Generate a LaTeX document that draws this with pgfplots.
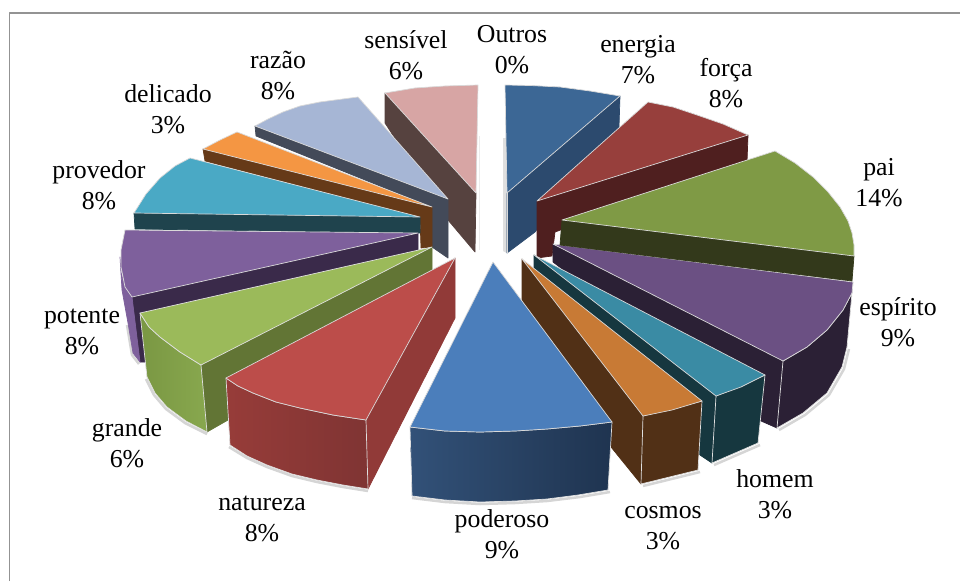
\documentclass[border=0pt]{standalone}
\usepackage{pgfplots}
\pgfplotsset{compat=1.18}
\usepackage{fontspec}
\setmainfont{Liberation Serif}
\definecolor{enT}{HTML}{3C6795}\definecolor{enS}{HTML}{2C4A6E}
\definecolor{foT}{HTML}{973F3C}\definecolor{foS}{HTML}{4F1F1F}
\definecolor{paT}{HTML}{7F9A45}\definecolor{paS}{HTML}{33391B}
\definecolor{esT}{HTML}{6B5083}\definecolor{esS}{HTML}{2B2035}
\definecolor{hoT}{HTML}{3A8BA4}\definecolor{hoS}{HTML}{16373F}
\definecolor{coT}{HTML}{C87A35}\definecolor{coS}{HTML}{513016}
\definecolor{poT}{HTML}{4B7EBB}\definecolor{poA}{HTML}{325178}\definecolor{poB}{HTML}{1F3450}
\definecolor{naT}{HTML}{BC4D4A}\definecolor{naS}{HTML}{913A38}\definecolor{naA}{HTML}{973C39}\definecolor{naB}{HTML}{7F3433}
\definecolor{grT}{HTML}{9BBA5A}\definecolor{grS}{HTML}{627535}\definecolor{grA}{HTML}{7A9743}\definecolor{grB}{HTML}{88A84E}
\definecolor{ptT}{HTML}{7E609C}\definecolor{ptS}{HTML}{3A2A4A}
\definecolor{prT}{HTML}{4AA9C5}\definecolor{prS}{HTML}{1F434D}
\definecolor{deT}{HTML}{F49643}\definecolor{deS}{HTML}{663A18}
\definecolor{raT}{HTML}{A6B6D5}\definecolor{raS}{HTML}{434A59}
\definecolor{seT}{HTML}{D7A5A4}\definecolor{seS}{HTML}{56423F}
\newcommand{\lbl}[4]{%
  \node[anchor=base,inner sep=0pt] at (axis cs:#1,#2) {\fontsize{25.8}{30}\selectfont #3};
  \node[anchor=base,inner sep=0pt] at (axis cs:#1,#2+31) {\fontsize{25.8}{30}\selectfont #4\%};}
\begin{document}
\begin{tikzpicture}
\begin{axis}[
  scale only axis, width=960pt, height=581pt,
  xmin=0, xmax=960, ymin=0, ymax=581, y dir=reverse,
  axis lines=none, clip=true,
  every axis plot/.append style={line join=round, line width=0.7pt},
]
\pgfplotsset{cycle list={}}
% page
\addplot[fill=white, draw=white, line width=0pt] coordinates {(0,0) (960,0) (960,581) (0,581)} -- cycle;
% frame
\addplot[draw=gray!85, line width=1.6pt] coordinates {(9.5,581) (9.5,13) (960,13)};
% Outros, 0%: the sliver and soft shadows
\addplot[fill=gray!25, draw=none] coordinates {(503,138) (506,138) (507,253) (503,251)} -- cycle;
\addplot[draw=gray!15, line width=1pt] coordinates {(479,136) (479,250)};
\addplot[draw=gray!55, line width=2.5pt, opacity=.6] coordinates {(849,349) (844,369) (829,395) (805,415) (779,430)};
\addplot[draw=gray!55, line width=2.5pt, opacity=.6] coordinates {(760,445) (714,465)};
\addplot[draw=gray!55, line width=2.5pt, opacity=.6] coordinates {(700,472) (643,486)};
\addplot[draw=gray!55, line width=2.5pt, opacity=.6] coordinates {(610,492) (580,497) (547,501) (515,503) (480,504) (445,502) (412,498)};
\addplot[draw=gray!55, line width=2.5pt, opacity=.6] coordinates {(229,447) (247,458) (267,467) (292,476) (317,482) (343,487) (368,491)};
\addplot[draw=gray!55, line width=2.5pt, opacity=.6] coordinates {(146,379) (154,395) (166,409) (185,423) (207,434)};
\addplot[draw=gray!55, line width=2.5pt, opacity=.6] coordinates {(127,325) (132,355) (139,364)};
% energia
\addplot[fill=enS, draw=enS] coordinates {(507,193) (620,96) (619,127) (535,232) (507,253)} -- cycle;
\addplot[fill=enT, draw=gray!30] coordinates {(507,193) (505,85) (530,85.5) (560,87) (590,91) (620,96)} -- cycle;
\addplot[draw=gray!30, line width=0.7pt] coordinates {(507,193) (507,253)};
% forca
\addplot[fill=foS, draw=foS] coordinates {(537,201) (748,135) (747,162) (555,232) (552,256) (537,258)} -- cycle;
\addplot[fill=foT, draw=gray!30] coordinates {(537,201) (648,102) (673,107) (697,115) (723,124) (748,135)} -- cycle;
% sensivel
\addplot[fill=seS, draw=seS] coordinates {(385,93) (385,123) (448,220) (475,252) (476,193)} -- cycle;
\addplot[fill=seT, draw=gray!30] coordinates {(476,193) (385,93) (415,88) (445,86) (478,85)} -- cycle;
% razao
\addplot[fill=raS, draw=raS] coordinates {(255,126) (256,136) (432,207) (432,247) (448,258) (448,199)} -- cycle;
\addplot[fill=raT, draw=gray!30] coordinates {(448,199) (255,126) (268,119) (283,112) (300,106) (320,102) (358,97)} -- cycle;
% delicado
\addplot[fill=deS, draw=deS] coordinates {(203,149) (205,161) (420,217) (421,248) (432,247) (432,207)} -- cycle;
\addplot[fill=deT, draw=gray!30] coordinates {(432,207) (203,149) (220,140) (237,132)} -- cycle;
% provedor
\addplot[fill=prS, draw=prS] coordinates {(134,213) (135,229) (420,233) (420,217)} -- cycle;
\addplot[fill=prT, draw=gray!30] coordinates {(420,217) (134,213) (146,194) (160,178) (175,166) (190,158)} -- cycle;
% potente
\addplot[fill=ptS, draw=ptS] coordinates {(132,297) (140,362) (145,362) (418,262) (418,233)} -- cycle;
\addplot[fill=ptT, draw=ptT] coordinates {(120,257) (121,272) (125,287) (132,297) (140,362) (133,353) (128,323) (122,290)} -- cycle;
\addplot[fill=ptT, draw=gray!30] coordinates {(418,233) (125,230) (121,250) (121,267) (125,287) (132,297)} -- cycle;
% grande
\addplot[fill=grS, draw=grS] coordinates {(432,247) (201,365) (207,432) (228,420) (432,290) (432,265)} -- cycle;
\addplot[left color=grA, right color=grB, draw=gray!25] coordinates {(140,313) (149,327) (160,337) (180,352) (201,365) (207,432) (186,421) (167,407) (155,393) (147,377)} -- cycle;
\addplot[fill=grT, draw=gray!25] coordinates {(432,247) (140,313) (149,327) (160,337) (180,352) (201,365)} -- cycle;
% natureza
\addplot[fill=naS, draw=naS] coordinates {(455,258) (366,420) (368,489) (455,318)} -- cycle;
\addplot[left color=naA, right color=naB, draw=gray!25] coordinates {(226,378) (238,386) (253,393) (276,402) (300,408) (333,415) (366,420) (368,489) (343,485) (317,480) (292,474) (267,465) (247,456) (230,445)} -- cycle;
\addplot[fill=naT, draw=gray!30] coordinates {(455,258) (226,378) (238,386) (253,393) (276,402) (300,408) (333,415) (366,420)} -- cycle;
% espirito
\addplot[fill=esS, draw=esS] coordinates {(553,244) (783,361) (777,428) (761,421) (553,262)} -- cycle;
\addplot[fill=esS, draw=gray!25] coordinates {(853,282) (852,293) (843,310) (827,330) (807,347) (783,361) (777,428) (803,413) (827,393) (842,367) (847,347)} -- cycle;
\addplot[fill=esT, draw=gray!30] coordinates {(553,244) (853,282) (852,293) (843,310) (827,330) (807,347) (783,361)} -- cycle;
% pai
\addplot[fill=paS, draw=paS] coordinates {(562,220) (854,256) (852,281) (560,245)} -- cycle;
\addplot[fill=paT, draw=gray!30] coordinates {(562,220) (775,151) (795,163) (813,177) (828,192) (840,207) (848,221) (852,233) (854,245) (854,256)} -- cycle;
% homem
\addplot[fill=hoS, draw=hoS] coordinates {(534,255) (716,396) (712,463) (700,455) (534,268)} -- cycle;
\addplot[fill=hoS, draw=gray!25] coordinates {(765,375) (758,443) (712,463) (716,396)} -- cycle;
\addplot[fill=hoT, draw=gray!30] coordinates {(534,255) (765,375) (741,387) (716,396)} -- cycle;
% cosmos
\addplot[fill=coS, draw=coS] coordinates {(522,259) (643,416) (641,484) (611,447) (522,300)} -- cycle;
\addplot[fill=coS, draw=gray!25] coordinates {(702,401) (698,470) (641,484) (643,416)} -- cycle;
\addplot[fill=coT, draw=gray!30] coordinates {(522,259) (702,401) (672,410) (643,416)} -- cycle;
% poderoso
\addplot[left color=poA, right color=poB, draw=gray!25] coordinates {(410,427) (445,431) (480,432) (515,431) (547,429) (580,426) (612,422) (608,490) (578,495) (547,499) (515,501) (480,502) (445,500) (412,496)} -- cycle;
\addplot[fill=poT, draw=gray!30] coordinates {(493,262) (410,427) (445,431) (480,432) (515,431) (547,429) (580,426) (612,422)} -- cycle;
% labels
\lbl{512}{42}{Outros}{0}
\lbl{638}{52}{energia}{7}
\lbl{726}{76}{força}{8}
\lbl{879}{175}{pai}{14}
\lbl{898}{315}{espírito}{9}
\lbl{775}{487}{homem}{3}
\lbl{663}{518}{cosmos}{3}
\lbl{502}{527}{poderoso}{9}
\lbl{262}{510}{natureza}{8}
\lbl{127}{436}{grande}{6}
\lbl{82}{323}{potente}{8}
\lbl{99}{178}{provedor}{8}
\lbl{168}{102}{delicado}{3}
\lbl{278}{68}{razão}{8}
\lbl{406}{48}{sensível}{6}
\end{axis}
\end{tikzpicture}
\end{document}
